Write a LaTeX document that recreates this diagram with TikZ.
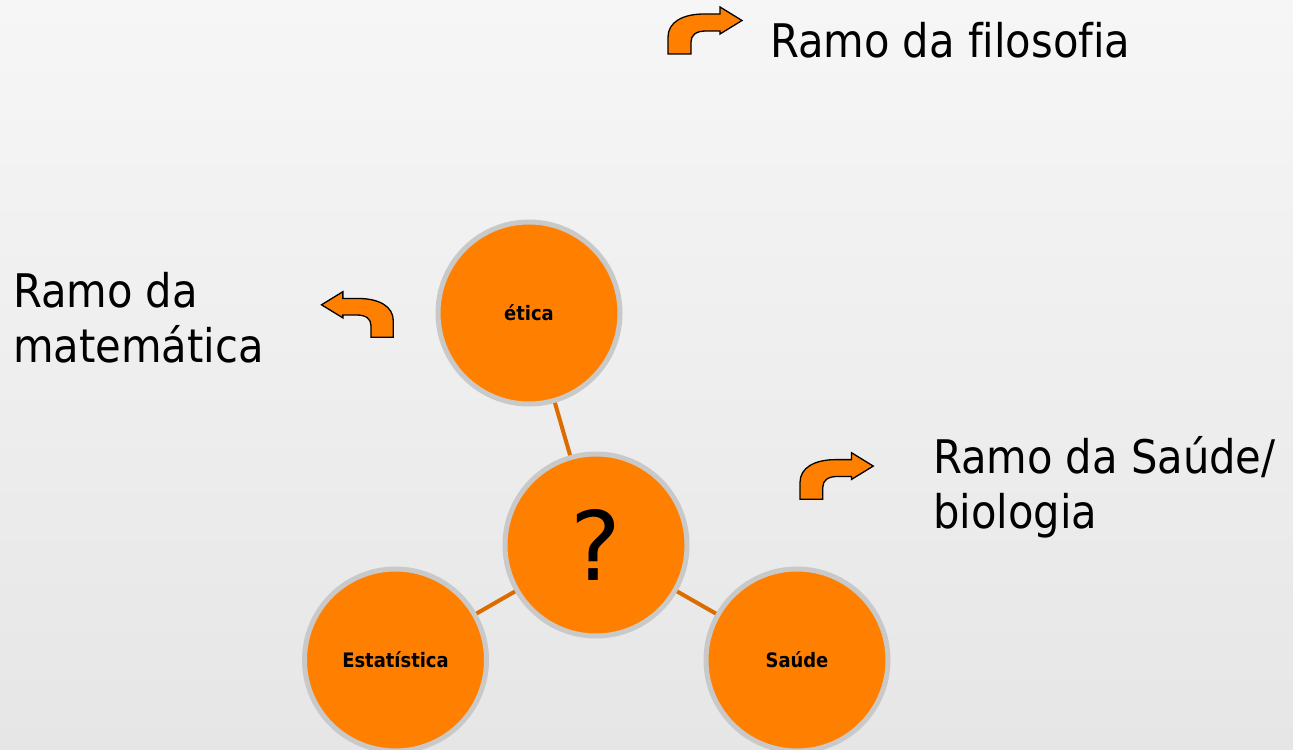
\documentclass[tikz,border=0pt]{standalone}
\usepackage{fontspec}
\setmainfont{DejaVu Sans}
\newfontfamily\cond[Ligatures=NoCommon]{DejaVu Sans Condensed}
\definecolor{bgtop}{HTML}{F6F6F6}
\definecolor{bgbot}{HTML}{E6E6E6}
\definecolor{orng}{HTML}{FF8000}
\definecolor{ring}{HTML}{C9C9C9}
\definecolor{link}{HTML}{DD6C00}
\tikzset{
  bubble/.style={circle, fill=orng, draw=ring, line width=5bp, minimum size=182bp, inner sep=0pt, text=black},
  smalllab/.style={font=\cond\bfseries\fontsize{20}{24}\selectfont},
  biglab/.style={font=\cond\fontsize{46.5}{55}\selectfont, text=black, inner sep=0pt, align=left},
  linkline/.style={draw=link, line width=4bp},
  arrowsty/.style={fill=orng, draw=black, line width=1.3bp, line join=miter},
  bentarrow/.pic={
    \path[arrowsty] (0,47) -- (0,30) .. controls (0,15) and (15,7) .. (36,7) -- (52,7) -- (52,0) -- (74,13.5) -- (52,27) -- (52,24) -- (38,24) .. controls (28,24) and (23,28) .. (23,35) -- (23,47) -- cycle;
  }
}
\begin{document}
\begin{tikzpicture}[x=1bp, y=-1bp]
\useasboundingbox (0,0) rectangle (1293,750);
\shade[top color=bgtop, bottom color=bgbot] (0,0) rectangle (1293,750);

% bubbles
\node[bubble, smalllab] (etica) at (529,313) {ética};
\node[bubble, font=\fontsize{96}{96}\selectfont] (q) at (596,545) {?};
\node[bubble, smalllab] (est) at (395.5,660) {Estatística};
\node[bubble, smalllab] (sau) at (797,660) {Saúde};

% connectors
\draw[linkline] (etica) -- (q);
\draw[linkline] (q) -- (est);
\draw[linkline] (q) -- (sau);

% bent arrows
\pic at (668,7) {bentarrow};
\pic[xscale=-0.97, yscale=0.97] at (393.3,291.7) {bentarrow};
\pic[scale=0.99] at (800,452.7) {bentarrow};

% labels
\node[biglab, anchor=base west] (filo) at (770,57.3) {Ramo da filosofia};
\node[biglab, anchor=base west] (mat) at (13,362) {Ramo da\\matemática};
\node[biglab, anchor=base west] (bio) at (933,528) {Ramo da Saúde/\\biologia};
\end{tikzpicture}
\end{document}
